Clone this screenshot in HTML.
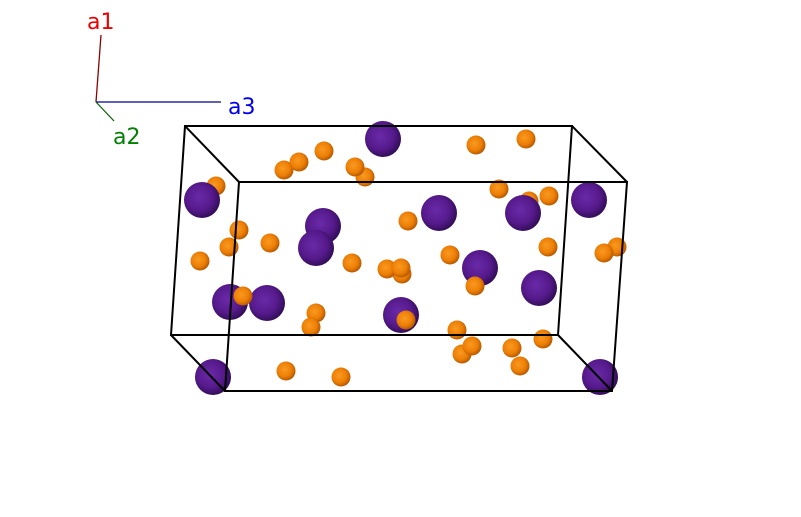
<!DOCTYPE html>
<html><head><meta charset="utf-8"><style>
html,body{margin:0;padding:0;background:#fff;}
svg{display:block;}
text{font-family:"DejaVu Sans","Liberation Sans",sans-serif;font-size:22px;}
</style></head><body>
<svg width="801" height="517" viewBox="0 0 801 517" xmlns="http://www.w3.org/2000/svg">
<defs>
<radialGradient id="p" cx="0.42" cy="0.42" r="0.62">
<stop offset="0" stop-color="#6a2aa8"/><stop offset="0.6" stop-color="#561a8c"/><stop offset="1" stop-color="#2e0c52"/>
</radialGradient>
<radialGradient id="o" cx="0.42" cy="0.42" r="0.62">
<stop offset="0" stop-color="#f89a20"/><stop offset="0.6" stop-color="#ee7f06"/><stop offset="1" stop-color="#b05400"/>
</radialGradient>
</defs>
<g fill="url(#o)">
<circle cx="216" cy="186" r="9.5"/><circle cx="529" cy="201" r="9.5"/><circle cx="617" cy="247" r="9.5"/><circle cx="402" cy="274" r="9.5"/><circle cx="365" cy="177" r="9.5"/><circle cx="462" cy="354" r="9.5"/>
</g>
<g fill="url(#p)">
<circle cx="383" cy="139" r="18"/><circle cx="202" cy="200" r="18"/><circle cx="323" cy="226" r="18"/><circle cx="316" cy="248" r="18"/><circle cx="439" cy="213" r="18"/><circle cx="523" cy="213" r="18"/><circle cx="589" cy="200" r="18"/><circle cx="480" cy="268" r="18"/><circle cx="539" cy="288" r="18"/><circle cx="230" cy="302" r="18"/><circle cx="267" cy="303" r="18"/><circle cx="401" cy="315" r="18"/><circle cx="213" cy="377" r="18"/><circle cx="600" cy="377" r="18"/>
</g>
<g fill="url(#o)">
<circle cx="284" cy="170" r="9.5"/><circle cx="299" cy="162" r="9.5"/><circle cx="324" cy="151" r="9.5"/><circle cx="355" cy="167" r="9.5"/><circle cx="476" cy="145" r="9.5"/><circle cx="526" cy="139" r="9.5"/><circle cx="499" cy="189" r="9.5"/><circle cx="549" cy="196" r="9.5"/><circle cx="408" cy="221" r="9.5"/><circle cx="239" cy="230" r="9.5"/><circle cx="229" cy="247" r="9.5"/><circle cx="270" cy="243" r="9.5"/><circle cx="200" cy="261" r="9.5"/><circle cx="352" cy="263" r="9.5"/><circle cx="387" cy="269" r="9.5"/><circle cx="401" cy="268" r="9.5"/><circle cx="450" cy="255" r="9.5"/><circle cx="475" cy="286" r="9.5"/><circle cx="548" cy="247" r="9.5"/><circle cx="604" cy="253" r="9.5"/><circle cx="243" cy="296" r="9.5"/><circle cx="316" cy="313" r="9.5"/><circle cx="311" cy="327" r="9.5"/><circle cx="406" cy="320" r="9.5"/><circle cx="457" cy="330" r="9.5"/><circle cx="472" cy="346" r="9.5"/><circle cx="512" cy="348" r="9.5"/><circle cx="520" cy="366" r="9.5"/><circle cx="543" cy="339" r="9.5"/><circle cx="286" cy="371" r="9.5"/><circle cx="341" cy="377" r="9.5"/>
</g>
<g stroke="#000" stroke-width="2" fill="none">
<polygon points="185,126 572,126 558,335 171,335"/>
<polygon points="239,182 627,182 612,391 225,391"/>
<line x1="185" y1="126" x2="239" y2="182"/><line x1="572" y1="126" x2="627" y2="182"/>
<line x1="558" y1="335" x2="612" y2="391"/><line x1="171" y1="335" x2="225" y2="391"/>
</g>
<line x1="96" y1="102" x2="101" y2="35" stroke="#8b0000" stroke-width="1.3"/>
<line x1="96" y1="102" x2="221" y2="102" stroke="#00008b" stroke-width="1.3"/>
<line x1="96" y1="102" x2="114" y2="121" stroke="#006400" stroke-width="1.2"/>
<text x="87" y="29" fill="#ee0000">a1</text>
<text x="228" y="114" fill="#0000ee">a3</text>
<text x="113" y="144" fill="#008000">a2</text>
</svg>
</body></html>
